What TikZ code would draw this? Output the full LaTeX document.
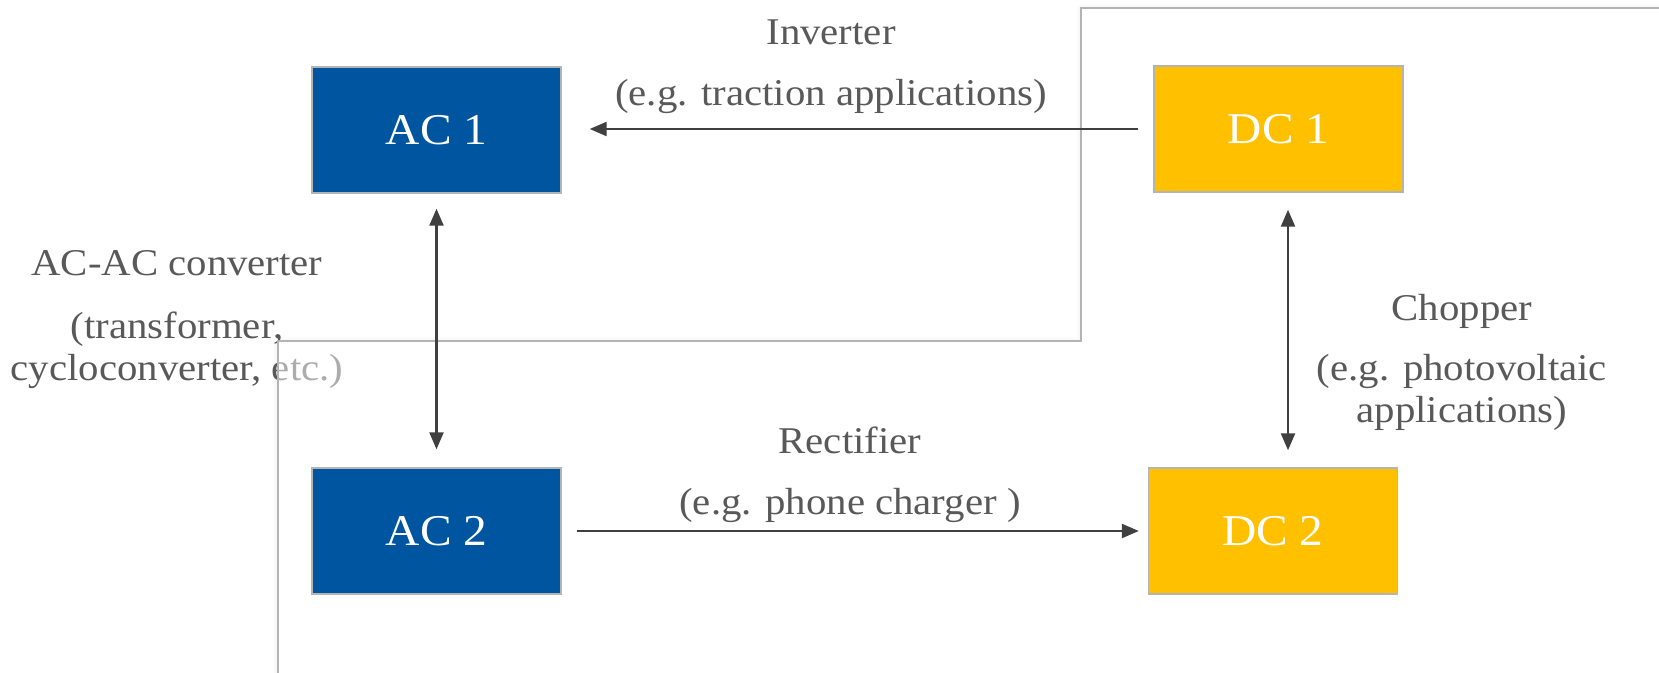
\documentclass[tikz,border=0pt]{standalone}
\usepackage{fontspec}
\setmainfont[FakeStretch=1.08]{Liberation Serif}
\usetikzlibrary{arrows.meta,shadows.blur}
\definecolor{acblue}{HTML}{0055A0}
\definecolor{dcyellow}{HTML}{FFC000}
\definecolor{labelgray}{HTML}{595959}
\definecolor{arrowgray}{HTML}{404040}
\definecolor{framegray}{HTML}{B4B4B4}
\begin{document}
\begin{tikzpicture}[
  glow/.style={blur shadow={shadow xshift=0pt,shadow yshift=-0.5pt,shadow blur radius=3pt,shadow opacity=10}},
  box/.style={draw=framegray,line width=0.8pt,fill=#1,text=white,
    minimum width=4.98cm,minimum height=2.52cm,inner sep=0pt,font=\fontsize{25}{30}\selectfont},
  lbl/.style={text=labelgray,align=center,anchor=north,inner sep=0pt,font=\fontsize{21.5}{23.9}\selectfont},
  conn/.style={draw=arrowgray,line width=1.3pt,>={Triangle[length=0.34cm,width=0.28cm]}}]
\useasboundingbox (0,0) rectangle (33.18,13.44);
% frame, white under its shadow
\fill[white,glow] (21.62,13.28) -- (33.6,13.28) -- (33.6,-0.3) -- (5.56,-0.3) -- (5.56,6.62) -- (21.62,6.62) -- cycle;
\node[lbl] (acac) at (3.54,8.44) {AC-AC converter\\[0.42cm](transformer,\\cycloconverter, etc.)};
% the frame lies over the left label
\fill[white,opacity=0.5] (21.62,13.28) -- (33.6,13.28) -- (33.6,-0.3) -- (5.56,-0.3) -- (5.56,6.62) -- (21.62,6.62) -- cycle;
\draw[framegray,line width=1.1pt] (21.62,13.28) -- (33.6,13.28) -- (33.6,-0.3) -- (5.56,-0.3) -- (5.56,6.62) -- (21.62,6.62) -- cycle;
\node[lbl] (inverter) at (16.62,13.06) {Inverter\\[0.38cm](e.g. traction applications)};
\node[lbl] (rectifier) at (17.0,4.90) {Rectifier\\[0.38cm](e.g. phone charger )};
\node[lbl] (chopper) at (29.24,7.56) {Chopper\\[0.36cm](e.g. photovoltaic\\applications)};
% boxes
\node[box=acblue] (ac1) at (8.73,10.84) {AC 1};
\node[box=acblue] (ac2) at (8.73,2.82) {AC 2};
\node[box=dcyellow] (dc1) at (25.57,10.86) {DC 1};
\node[box=dcyellow] (dc2) at (25.46,2.82) {DC 2};
% converters
\draw[conn,->,shorten <=0.3cm,shorten >=0.56cm] (dc1.west) -- (ac1.east |- dc1.west);
\draw[conn,->,shorten <=0.3cm,shorten >=0.18cm] (ac2.east) -- (dc2.west);
\draw[conn,<->,shorten <=0.3cm,shorten >=0.36cm] (ac1.south) -- (ac2.north);
\draw[conn,<->,shorten <=0.34cm,shorten >=0.34cm] ([xshift=0.19cm]dc1.south) -- ([xshift=0.3cm]dc2.north);
\end{tikzpicture}
\end{document}
